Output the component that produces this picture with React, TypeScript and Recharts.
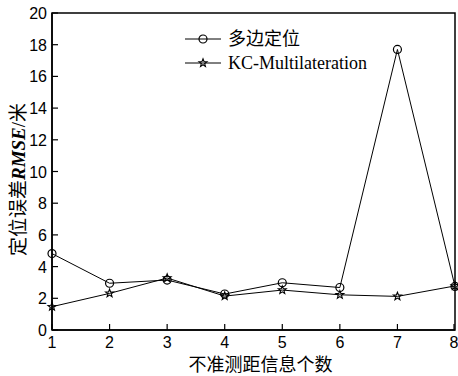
import { LineChart, Line, XAxis, YAxis, Legend, ReferenceArea } from 'recharts'

const xCounts = [1, 2, 3, 4, 5, 6, 7, 8]
const multilateration = [4.82, 2.95, 3.15, 2.27, 2.98, 2.68, 17.7, 2.75]
const kcMultilateration = [1.47, 2.31, 3.28, 2.14, 2.52, 2.22, 2.12, 2.78]
const xTicks = [1, 2, 3, 4, 5, 6, 7, 8]
const yTicks = [0, 2, 4, 6, 8, 10, 12, 14, 16, 18, 20]
const seriesNames = ['多边定位', 'KC-Multilateration']

const data = xCounts.map((x, i) => ({
  x,
  m: multilateration[i],
  kc: kcMultilateration[i],
}))

const TICK_FONT = '"Liberation Sans", Arial, sans-serif'
const SERIF_FONT = '"Liberation Serif", "Noto Sans CJK SC", serif'

function starPath(cx: number, cy: number, r: number) {
  const pts: string[] = []
  for (let i = 0; i < 10; i++) {
    const rad = i % 2 === 0 ? r : r * 0.42
    const a = -Math.PI / 2 + (i * Math.PI) / 5
    pts.push(`${cx + rad * Math.cos(a)},${cy + rad * Math.sin(a)}`)
  }
  return 'M' + pts.join('L') + 'Z'
}

const CircleDot = (props: any) => {
  const { cx, cy } = props
  if (cx == null || cy == null) return null
  return <circle cx={cx} cy={cy} r={4} fill="none" stroke="#000" strokeWidth={1.2} />
}

const StarDot = (props: any) => {
  const { cx, cy } = props
  if (cx == null || cy == null) return null
  return <path d={starPath(cx, cy, 4.2)} fill="none" stroke="#000" strokeWidth={1.1} />
}

const YTick = (props: any) => {
  const { x, y, payload } = props
  return (
    <g>
      <line x1={x + 5} y1={y} x2={x + 11} y2={y} stroke="#000" strokeWidth={1.2} />
      <text x={x} y={y} dy={6} textAnchor="end" fontSize={16} fontFamily={TICK_FONT} fill="#000">
        {payload.value}
      </text>
    </g>
  )
}

const XTick = (props: any) => {
  const { x, y, payload } = props
  return (
    <g>
      <line x1={x} y1={y - 4} x2={x} y2={y - 10} stroke="#000" strokeWidth={1.2} />
      <text x={x} y={y} dy={14} textAnchor="middle" fontSize={16} fontFamily={TICK_FONT} fill="#000">
        {payload.value}
      </text>
    </g>
  )
}

const LegendContent = () => (
  <svg width={230} height={50} style={{ display: 'block' }}>
    <line x1={0} y1={10} x2={36} y2={10} stroke="#000" strokeWidth={1} />
    <CircleDot cx={18} cy={10} />
    <text x={43} y={16} fontSize={18} fontFamily={SERIF_FONT} fill="#000">
      {seriesNames[0]}
    </text>
    <line x1={0} y1={34} x2={36} y2={34} stroke="#000" strokeWidth={1} />
    <StarDot cx={18} cy={34} />
    <text x={43} y={40} fontSize={18} fontFamily={SERIF_FONT} fill="#000">
      {seriesNames[1]}
    </text>
  </svg>
)

export default function App() {
  return (
    <div style={{ position: 'absolute', left: 0, top: 0, background: '#fff' }}>
      <LineChart width={458} height={376} data={data} margin={{ top: 13, right: 3, left: 0, bottom: 0 }}>
        <ReferenceArea x1={1} x2={8} y1={0} y2={20} fill="none" stroke="#000" strokeWidth={1.5} ifOverflow="visible" />
        <XAxis
          dataKey="x"
          type="number"
          domain={[1, 8]}
          ticks={xTicks}
          height={46}
          tickSize={0}
          tickMargin={4}
          tickLine={false}
          axisLine={{ stroke: '#000', strokeWidth: 1.5 }}
          tick={<XTick />}
          label={{
            content: (p: any) => {
              const vb = p.viewBox
              return (
                <text
                  x={vb.x + vb.width / 2 + 7}
                  y={vb.y + 41}
                  textAnchor="middle"
                  fontSize={18}
                  fontFamily={SERIF_FONT}
                  fill="#000"
                >
                  不准测距信息个数
                </text>
              )
            },
          }}
        />
        <YAxis
          type="number"
          domain={[0, 20]}
          ticks={yTicks}
          width={52}
          tickSize={0}
          tickMargin={5}
          tickLine={false}
          axisLine={{ stroke: '#000', strokeWidth: 1.5 }}
          tick={<YTick />}
          label={{
            content: (p: any) => {
              const vb = p.viewBox
              const cx = 18
              const cy = vb.y + vb.height / 2 + 8
              return (
                <text
                  x={cx}
                  y={cy}
                  transform={`rotate(-90 ${cx} ${cy})`}
                  textAnchor="middle"
                  dominantBaseline="central"
                  fontSize={19}
                  fontFamily={SERIF_FONT}
                  fill="#000"
                >
                  定位误差
                  <tspan fontStyle="italic" fontWeight="bold">RMSE</tspan>
                  /米
                </text>
              )
            },
          }}
        />
        <Legend
          layout="vertical"
          verticalAlign="middle"
          align="center"
          wrapperStyle={{ left: 185, top: 29, width: 230 }}
          content={<LegendContent />}
        />
        <Line
          dataKey="m"
          name={seriesNames[0]}
          stroke="#000"
          strokeWidth={1}
          dot={<CircleDot />}
          isAnimationActive={false}
        />
        <Line
          dataKey="kc"
          name={seriesNames[1]}
          stroke="#000"
          strokeWidth={1}
          dot={<StarDot />}
          isAnimationActive={false}
        />
      </LineChart>
    </div>
  )
}
